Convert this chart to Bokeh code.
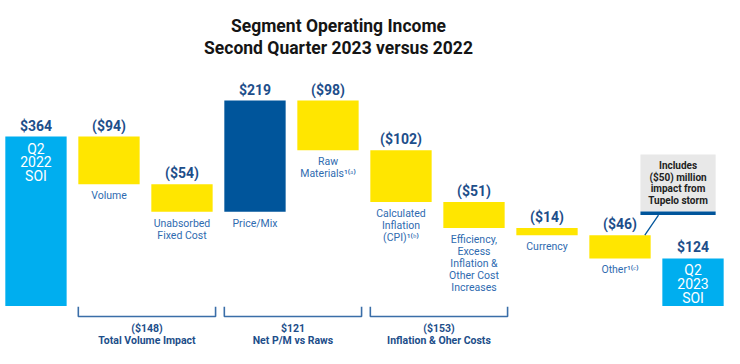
from bokeh.plotting import figure
from bokeh.layouts import column
from bokeh.models import Range1d, ColumnDataSource
from bokeh.core.properties import value
from bokeh.embed import file_html
from bokeh.resources import INLINE

# ---------------- data ----------------
categories = ["Q2\n2022\nSOI", "Volume", "Unabsorbed\nFixed Cost", "Price/Mix",
              "Raw\nMaterials¹⁽ᵃ⁾", "Calculated\nInflation\n(CPI)¹⁽ᵇ⁾",
              "Efficiency,\nExcess\nInflation &\nOther Cost\nIncreases",
              "Currency", "Other¹⁽ᶜ⁾", "Q2\n2023\nSOI"]
values = [364, -94, -54, 219, -98, -102, -51, -14, -46, 124]
value_labels = ["$364", "($94)", "($54)", "$219", "($98)", "($102)", "($51)",
                "($14)", "($46)", "$124"]
group_members = [[1, 2], [3, 4], [5, 6]]
group_labels = ["($148)\nTotal Volume Impact", "$121\nNet P/M vs Raws",
                "($153)\nInflation & Oher Costs"]
note_text = "Includes\n($50) million\nimpact from\nTupelo storm"
note_bar = 8
title_text = "Segment Operating Income\nSecond Quarter 2023 versus 2022"

# ---------------- styles ----------------
CYAN = "#00AEEF"
NAVY = "#00559B"
YELLOW = "#FFE600"
VAL_COLOR = "#1D4E8A"
CAT_COLOR = "#2F6BB0"
FONT = value("Roboto")

# ---------------- waterfall geometry from data ----------------
n = len(values)
xs = list(range(n))
tops, bottoms, colors = [], [], []
running = 0
for i, v in enumerate(values):
    if i == 0 or i == n - 1:
        bottoms.append(0)
        tops.append(v)
        colors.append(CYAN)
        running = v
    else:
        new = running + v
        bottoms.append(min(running, new))
        tops.append(max(running, new))
        colors.append(NAVY if v > 0 else YELLOW)
        running = new

src = ColumnDataSource(dict(x=xs, top=tops, bottom=bottoms, color=colors,
                            vlab=value_labels, cat=categories))

W = 732
x_range = Range1d(-0.486, 9.541)

p = figure(width=W, height=306, x_range=x_range, y_range=Range1d(29.5, 631.9),
           output_backend="svg", toolbar_location=None, min_border=0,
           x_axis_location=None, y_axis_location=None, outline_line_color=None)
p.xgrid.grid_line_color = None
p.ygrid.grid_line_color = None

p.vbar(x="x", top="top", bottom="bottom", width=0.84, fill_color="color",
       line_color=None, source=src)

# value labels above bars
p.text(x="x", y="top", text="vlab", source=src, text_align="center",
       text_baseline="bottom", y_offset=-3, text_font=FONT,
       text_font_style="bold", text_font_size="14px", text_color=VAL_COLOR)

# category labels below intermediate bars
mid = ColumnDataSource(dict(x=xs[1:-1], y=bottoms[1:-1], t=categories[1:-1]))
p.text(x="x", y="y", text="t", source=mid, text_align="center",
       text_baseline="top", y_offset=5, text_font=FONT,
       text_font_size="10.5px", text_color=CAT_COLOR, text_line_height=0.93)

# labels inside start/end bars
ends = ColumnDataSource(dict(x=[xs[0], xs[-1]], y=[tops[0], tops[-1]],
                             t=[categories[0], categories[-1]]))
p.text(x="x", y="y", text="t", source=ends, text_align="center",
       text_baseline="top", y_offset=4, text_font=FONT,
       text_font_size="14px", text_color="white", text_line_height=0.86)

# title
p.text(x=[4.144], y=[561], text=[title_text], text_align="center",
       text_baseline="middle", text_font=FONT, text_font_style="bold",
       text_font_size="17.5px", text_color="#151515", text_line_height=1.1)

# note box for "Other"
bx0, bx1 = note_bar + 0.28, note_bar + 1.31
p.quad(left=[bx0], right=[bx1], bottom=[216.5], top=[328.7],
       fill_color="#E8E8E8", line_color=None)
p.quad(left=[bx0], right=[bx1], bottom=[209.6], top=[216.5],
       fill_color=NAVY, line_color=None)
p.text(x=[(bx0 + bx1) / 2], y=[272.6], text=[note_text], text_align="center",
       text_baseline="middle", text_font=FONT, text_font_style="bold",
       text_font_size="10px", text_color="#222222", text_line_height=1.05)
p.segment(x0=[note_bar + 0.527], y0=[209.6], x1=[note_bar + 0.34],
          y1=[tops[note_bar]], line_color=NAVY, line_width=1.3)

# ---------------- bottom brackets ----------------
b = figure(width=W, height=50, x_range=x_range, y_range=Range1d(50, 0),
           output_backend="svg", toolbar_location=None, min_border=0,
           x_axis_location=None, y_axis_location=None, outline_line_color=None)
b.xgrid.grid_line_color = None
b.ygrid.grid_line_color = None

bxs, bys, gx = [], [], []
for members in group_members:
    l = members[0] - 0.42
    r = members[-1] + 0.46
    bxs.append([l, l, r, r])
    bys.append([0, 10, 10, 0])
    gx.append((l + r) / 2)
b.multi_line(xs=bxs, ys=bys, line_color="#3A6EA8", line_width=1.6)
b.text(x=gx, y=[28] * len(gx), text=group_labels, text_align="center",
       text_baseline="middle", text_font=FONT, text_font_style="bold",
       text_font_size="10.5px", text_color=VAL_COLOR, text_line_height=0.95)

layout = column(p, b, spacing=0)
open("out.html", "w").write(file_html(layout, INLINE))
